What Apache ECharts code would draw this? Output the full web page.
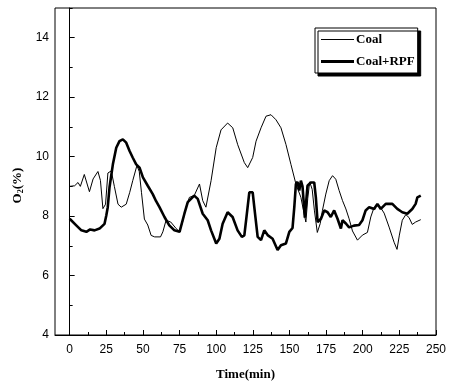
<!DOCTYPE html>
<html>
<head>
<meta charset="utf-8">
<script src="https://cdn.jsdelivr.net/npm/echarts@6/dist/echarts.min.js"></script>
<style>
  html, body { margin: 0; padding: 0; background: #fff; }
  #chart { width: 450px; height: 386px; }
</style>
</head>
<body>
<div id="chart"></div>
<script>
// Coal
const coalTime = [0, 3.4, 5.7, 7.3, 10, 13.5, 16, 19.3, 21, 22.7, 24.5, 26.1, 28.4, 30.5, 33, 35.2, 38.6, 41, 43.1, 45.9,
  47.5, 49, 51, 53.3, 55.6, 58, 62, 63.6, 65.8, 69, 72.7, 75, 77, 79.5, 81.7, 85, 88.6, 90.8, 93, 96.5,
  100, 103.3, 107.8, 111.3, 114.7, 119.2, 121.5, 124.9, 127.2, 130.6, 134, 137.4, 140.8, 144.2, 147.6, 151, 154.4, 157.8, 160, 161.2,
  162.5, 163.8, 165.5, 167, 169, 171, 172.5, 174.8, 177.1, 179.4, 181.6, 183.9, 186.2, 188.5, 190.7, 193, 196.4, 199.8, 203.2, 205.5,
  207.8, 211.2, 214.6, 218, 221.4, 223.4, 225, 227, 229.4, 231.6, 233.8, 236.1, 239.6];
const coalO2 = [9.0, 9.02, 9.13, 9.0, 9.4, 8.82, 9.25, 9.5, 9.2, 8.25, 8.4, 9.45, 9.52, 9.0, 8.4, 8.3, 8.4, 8.8, 9.2, 9.7,
  9.5, 8.8, 7.9, 7.7, 7.35, 7.3, 7.3, 7.47, 7.86, 7.8, 7.58, 7.47, 7.8, 8.3, 8.63, 8.69, 9.08, 8.52, 8.3, 9.19,
  10.3, 10.9, 11.13, 10.97, 10.4, 9.8, 9.63, 9.97, 10.52, 10.97, 11.36, 11.41, 11.24, 10.97, 10.41, 9.74, 9.08, 8.63, 8.08, 7.8,
  8.6, 9.15, 8.9, 8.2, 7.45, 7.75, 8.19, 8.74, 9.19, 9.36, 9.24, 8.86, 8.52, 8.24, 7.91, 7.5, 7.19, 7.36, 7.45, 7.97,
  8.3, 8.36, 8.1, 7.63, 7.12, 6.88, 7.36, 7.86, 8.05, 7.95, 7.72, 7.8, 7.88];

// Coal+RPF
const rpfTime = [0, 4.5, 8, 11.4, 14, 17, 20.4, 23.8, 25, 26, 27.2, 29.5, 31.8, 34, 36.3, 38.6, 40.9, 43, 45.4, 47.7,
  50, 53.3, 56.7, 59, 61.3, 64.7, 68, 71.5, 75, 78.3, 80.6, 81.7, 85, 87.4, 90.8, 94.2, 96.5, 100, 102.2, 104.4,
  107.8, 111.2, 114.6, 117.5, 119.2, 120.5, 122.6, 124.9, 126, 128.3, 130.6, 132.8, 135.1, 138.5, 141.9, 144.2, 147.6, 149.9, 152.1, 153.3,
  154.4, 155.5, 156.7, 157.8, 158.9, 160.5, 162.3, 164.6, 166.9, 168, 169.2, 171.5, 173.7, 176, 178.2, 180.5, 182.8, 185.1, 186.2, 188.5,
  190.7, 194, 197.5, 199.8, 202, 204.4, 207.8, 210, 212.3, 215.7, 220.2, 223.6, 227, 230.4, 233.8, 236.1, 237.3, 239.6];
const rpfO2 = [7.91, 7.69, 7.52, 7.47, 7.55, 7.52, 7.58, 7.74, 8.02, 8.3, 8.97, 9.74, 10.3, 10.52, 10.58, 10.47, 10.19, 9.97, 9.74, 9.63,
  9.3, 9.02, 8.74, 8.5, 8.3, 7.97, 7.69, 7.52, 7.47, 8.08, 8.47, 8.52, 8.69, 8.58, 8.08, 7.86, 7.52, 7.08, 7.24, 7.74,
  8.13, 7.97, 7.52, 7.3, 7.35, 7.9, 8.8, 8.8, 8.3, 7.3, 7.19, 7.52, 7.36, 7.24, 6.86, 7.02, 7.08, 7.47, 7.6, 8.3,
  9.08, 9.15, 8.86, 9.19, 9.0, 7.95, 9.02, 9.13, 9.13, 8.63, 7.8, 7.91, 8.19, 8.13, 7.97, 8.19, 7.91, 7.58, 7.86, 7.75,
  7.62, 7.68, 7.7, 7.86, 8.19, 8.3, 8.24, 8.41, 8.24, 8.41, 8.41, 8.24, 8.13, 8.08, 8.24, 8.41, 8.63, 8.69];

const xTicks = [0, 25, 50, 75, 100, 125, 150, 175, 200, 225, 250];
const xMinorTicks = [12.5, 37.5, 62.5, 87.5, 112.5, 137.5, 162.5, 187.5, 212.5, 237.5];
const yTicks = [4, 6, 8, 10, 12, 14];
const yMinorTicks = [5, 7, 9, 11, 13, 15];

const sans = 'Liberation Sans';
const serif = 'Liberation Serif';

const chart = echarts.init(document.getElementById('chart'));

const pairs = (xs, ys) => xs.map((x, i) => [x, ys[i]]);

const baseX = {
  type: 'value', min: -10, max: 250, position: 'bottom',
  splitLine: { show: false }
};
const baseY = {
  type: 'value', min: 4, max: 15, position: 'left',
  splitLine: { show: false }
};

chart.setOption({
  animation: false,
  backgroundColor: '#fff',
  grid: {
    left: 55, right: 14, top: 8, bottom: 47,
    show: true, borderColor: '#000', borderWidth: 1
  },
  legend: {
    orient: 'vertical',
    left: 315, top: 28,
    padding: [5, 3, 5, 6],
    itemGap: 9,
    itemWidth: 33, itemHeight: 12,
    backgroundColor: '#fff',
    borderColor: '#000', borderWidth: 1,
    shadowColor: '#000', shadowBlur: 0, shadowOffsetX: 3, shadowOffsetY: 3,
    textStyle: { fontFamily: serif, fontWeight: 'bold', fontSize: 13, color: '#000', padding: [0, 0, 0, -3] },
    data: [
      { name: 'Coal', icon: 'path://M0,0 H33 V1 H0 Z' },
      { name: 'Coal+RPF', icon: 'path://M0,0 H33 V3 H0 Z' }
    ]
  },
  xAxis: [
    Object.assign({}, baseX, {
      name: 'Time(min)', nameLocation: 'middle', nameGap: 33,
      nameTextStyle: { fontFamily: serif, fontWeight: 'bold', fontSize: 13, color: '#000' },
      axisLine: { lineStyle: { color: '#000', width: 1 } },
      axisTick: { inside: true, length: 5, customValues: xTicks, lineStyle: { color: '#000' } },
      axisLabel: { customValues: xTicks, margin: 9, fontFamily: sans, fontSize: 12, color: '#000' }
    }),
    Object.assign({}, baseX, {
      axisLine: { show: false },
      axisTick: { inside: true, length: 3, customValues: xMinorTicks, lineStyle: { color: '#000' } },
      axisLabel: { show: false }
    })
  ],
  yAxis: [
    Object.assign({}, baseY, {
      name: 'O{sub|2}(%)', nameLocation: 'middle', nameGap: 26,
      nameTextStyle: {
        fontFamily: serif, fontWeight: 'bold', fontSize: 13, color: '#000',
        padding: [0, 28, 0, 0],
        rich: { sub: { fontFamily: serif, fontWeight: 'bold', fontSize: 8, color: '#000', padding: [6, 0, 0, 0] } }
      },
      axisLine: { lineStyle: { color: '#000', width: 1 } },
      axisTick: { inside: true, length: 5, customValues: yTicks, lineStyle: { color: '#000' } },
      axisLabel: { customValues: yTicks, margin: 6, fontFamily: sans, fontSize: 12, color: '#000' }
    }),
    Object.assign({}, baseY, {
      axisLine: { show: false },
      axisTick: { inside: true, length: 3, customValues: yMinorTicks, lineStyle: { color: '#000' } },
      axisLabel: { show: false }
    })
  ],
  series: [
    {
      name: 'Coal', type: 'line', symbol: 'none',
      data: pairs(coalTime, coalO2),
      lineStyle: { color: '#000', width: 1 },
      itemStyle: { color: '#000' }
    },
    {
      name: 'Coal+RPF', type: 'line', symbol: 'none',
      data: pairs(rpfTime, rpfO2),
      lineStyle: { color: '#000', width: 2.6 },
      itemStyle: { color: '#000' }
    }
  ]
});
</script>
</body>
</html>
